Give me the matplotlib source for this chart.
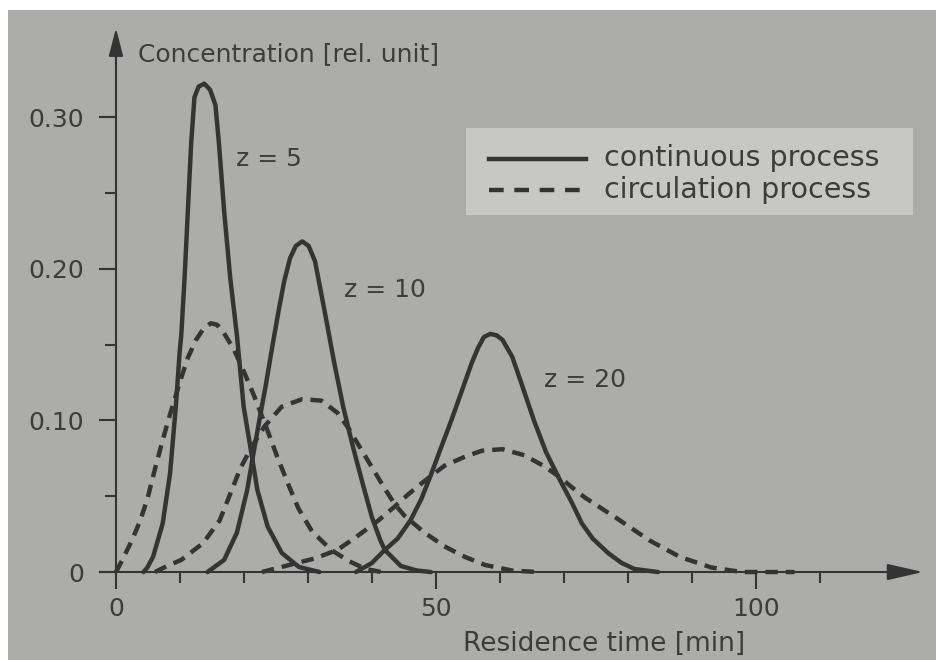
import matplotlib
matplotlib.use("Agg")
import matplotlib.pyplot as plt
from matplotlib.patches import Rectangle
from matplotlib.lines import Line2D

# continuous process (solid)
x_c5 = [4.3, 4.9, 5.8, 7.3, 8.45, 9.35, 9.95, 10.2, 10.72, 11.23, 11.74, 12.26, 12.9, 13.8, 14.7, 15.54, 16.1, 16.9, 17.85, 18.9, 19.95, 21.05, 22.1, 23.7, 25.9, 28.6, 31.8]
y_c5 = [0.0, 0.003, 0.01, 0.032, 0.065, 0.109, 0.145, 0.156, 0.194, 0.238, 0.282, 0.313, 0.32, 0.322, 0.318, 0.308, 0.282, 0.238, 0.194, 0.156, 0.109, 0.081, 0.054, 0.03, 0.0126, 0.0033, 0.0]
x_c10 = [14.3, 16.9, 18.9, 20.5, 21.6, 22.4, 23.4, 24.4, 25.4, 26.3, 27.2, 28.1, 29.1, 30.1, 31.1, 32.6, 34.1, 35.5, 37.0, 38.5, 40.0, 41.3, 42.0, 44.5, 47.0, 49.2]
y_c10 = [0.0, 0.008, 0.026, 0.054, 0.081, 0.1, 0.123, 0.148, 0.172, 0.192, 0.207, 0.215, 0.218, 0.215, 0.205, 0.172, 0.138, 0.109, 0.083, 0.059, 0.036, 0.021, 0.0146, 0.004, 0.001, 0.0]
x_c20 = [37.5, 40.0, 42.0, 44.0, 46.0, 47.7, 49.2, 50.7, 52.4, 54.0, 55.6, 56.6, 57.5, 58.5, 59.5, 60.4, 61.9, 63.3, 65.3, 67.2, 69.2, 71.2, 72.8, 74.5, 76.9, 79.0, 81.0, 84.7]
y_c20 = [0.0, 0.006, 0.0146, 0.022, 0.034, 0.048, 0.064, 0.081, 0.1, 0.119, 0.138, 0.148, 0.155, 0.157, 0.156, 0.153, 0.142, 0.125, 0.1, 0.079, 0.062, 0.046, 0.032, 0.022, 0.0125, 0.006, 0.002, 0.0]

# circulation process (dashed)
x_r5 = [0.0, 1.0, 2.5, 3.8, 4.9, 6.1, 7.3, 8.45, 10.2, 11.2, 12.5, 13.6, 14.8, 15.8, 16.8, 18.4, 20.0, 21.6, 23.7, 25.2, 26.9, 28.5, 30.6, 33.6, 36.5, 39.0, 41.5]
y_r5 = [0.0, 0.008, 0.021, 0.034, 0.048, 0.068, 0.087, 0.104, 0.128, 0.141, 0.153, 0.16, 0.164, 0.163, 0.158, 0.147, 0.132, 0.116, 0.093, 0.076, 0.058, 0.042, 0.027, 0.0146, 0.007, 0.002, 0.0]
x_r10 = [6.1, 8.0, 10.2, 13.6, 16.2, 17.9, 19.4, 21.0, 23.2, 25.9, 29.1, 32.1, 34.6, 36.3, 38.0, 40.0, 42.0, 43.5, 45.1, 48.2, 51.3, 54.5, 57.7, 61.9, 66.0]
y_r10 = [0.0, 0.004, 0.008, 0.019, 0.034, 0.052, 0.068, 0.081, 0.096, 0.109, 0.114, 0.113, 0.105, 0.095, 0.083, 0.069, 0.055, 0.045, 0.037, 0.026, 0.017, 0.01, 0.0046, 0.001, 0.0]
x_r20 = [22.8, 27.4, 31.1, 34.6, 37.5, 41.0, 43.5, 45.6, 48.2, 51.3, 54.5, 57.2, 60.4, 63.8, 66.8, 69.2, 71.2, 73.3, 78.4, 83.3, 88.1, 93.0, 97.8, 106.0]
y_r20 = [0.0, 0.005, 0.009, 0.0146, 0.023, 0.034, 0.043, 0.051, 0.06, 0.07, 0.076, 0.08, 0.081, 0.077, 0.07, 0.063, 0.056, 0.049, 0.035, 0.021, 0.01, 0.003, 0.0, 0.0]

y_ticks = [0, 0.10, 0.20, 0.30]
y_labels = ["0", "0.10", "0.20", "0.30"]
x_ticks = [0, 50, 100]
x_labels = ["0", "50", "100"]

W, H = 936, 660
ink = "#343434"
txt = "#3c3c3c"

fig = plt.figure(figsize=(9.36, 6.6), dpi=100)
fig.patch.set_facecolor("white")
fig.add_artist(Rectangle((8 / W, 0), 1, 1 - 10 / H, transform=fig.transFigure,
                         facecolor="#acacaa", edgecolor="none", zorder=-10))

ax = fig.add_axes([0.1068, 0.1218, 0.8821, 0.8388])
ax.set_facecolor("none")
ax.set_xlim(-2.5, 126.5)
ax.set_ylim(-0.005, 0.36)

lw = 3.2
dash = (0, (2.8, 1.8))
for xs, ys in [(x_c5, y_c5), (x_c10, y_c10), (x_c20, y_c20)]:
    ax.plot(xs, ys, color=ink, lw=lw, solid_capstyle="round", solid_joinstyle="round")
for xs, ys in [(x_r5, y_r5), (x_r10, y_r10), (x_r20, y_r20)]:
    ax.plot(xs, ys, color=ink, lw=lw, linestyle=dash, dash_joinstyle="round")

# axes with arrows
for s in ["top", "right"]:
    ax.spines[s].set_visible(False)
ax.spines["left"].set_position(("data", 0))
ax.spines["bottom"].set_position(("data", 0))
ax.spines["left"].set_bounds(0, 0.345)
ax.spines["bottom"].set_bounds(-2.5, 122)
for s in ["left", "bottom"]:
    ax.spines[s].set_color(ink)
    ax.spines[s].set_linewidth(1.5)
ax.annotate("", xy=(0, 0.3586), xytext=(0, 0.335),
            arrowprops=dict(arrowstyle="-|>,head_length=0.85,head_width=0.22",
                            mutation_scale=20, color=ink, lw=1.5, shrinkA=0, shrinkB=0))
ax.annotate("", xy=(126.1, 0), xytext=(120, 0),
            arrowprops=dict(arrowstyle="-|>,head_length=1.1,head_width=0.25",
                            mutation_scale=20, color=ink, lw=1.5, shrinkA=0, shrinkB=0))

ax.set_yticks(y_ticks)
ax.set_yticklabels(y_labels)
ax.set_yticks([0.05, 0.15, 0.25], minor=True)
ax.set_xticks(x_ticks)
ax.set_xticklabels(x_labels)
ax.set_xticks([10, 20, 30, 40, 60, 70, 80, 90, 110], minor=True)
ax.tick_params(axis="both", which="major", direction="out", color=ink, width=1.5,
               length=12, labelsize=18, labelcolor=txt)
ax.tick_params(axis="both", which="minor", direction="out", color=ink, width=1.5, length=8)
ax.tick_params(axis="y", which="major", pad=11)
ax.tick_params(axis="x", which="major", pad=6)

ax.text(18.8, 0.268, "z = 5", fontsize=18, color=txt, va="baseline")
ax.text(35.6, 0.181, "z = 10", fontsize=18, color=txt, va="baseline")
ax.text(66.8, 0.122, "z = 20", fontsize=18, color=txt, va="baseline")

fig.text(138 / W, 1 - 61 / H, "Concentration [rel. unit]", fontsize=18, color=txt, va="baseline")
fig.text(463 / W, 1 - 651 / H, "Residence time [min]", fontsize=19, color=txt, va="baseline")

# legend box
fig.add_artist(Rectangle((466 / W, 1 - 215 / H), (913 - 466) / W, 87 / H,
                         transform=fig.transFigure, facecolor="#c7c7c5", edgecolor="none"))
fig.add_artist(Line2D([489 / W, 586 / W], [1 - 159 / H] * 2, transform=fig.transFigure,
                      color=ink, lw=lw))
fig.add_artist(Line2D([489 / W, 586 / W], [1 - 190 / H] * 2, transform=fig.transFigure,
                      color=ink, lw=lw, linestyle=(0, (3.3, 2.4))))
fig.text(604 / W, 1 - 166 / H, "continuous process", fontsize=20.5, color=txt, va="baseline")
fig.text(604 / W, 1 - 198 / H, "circulation process", fontsize=20.5, color=txt, va="baseline")

fig.savefig("out.png", dpi=100)
